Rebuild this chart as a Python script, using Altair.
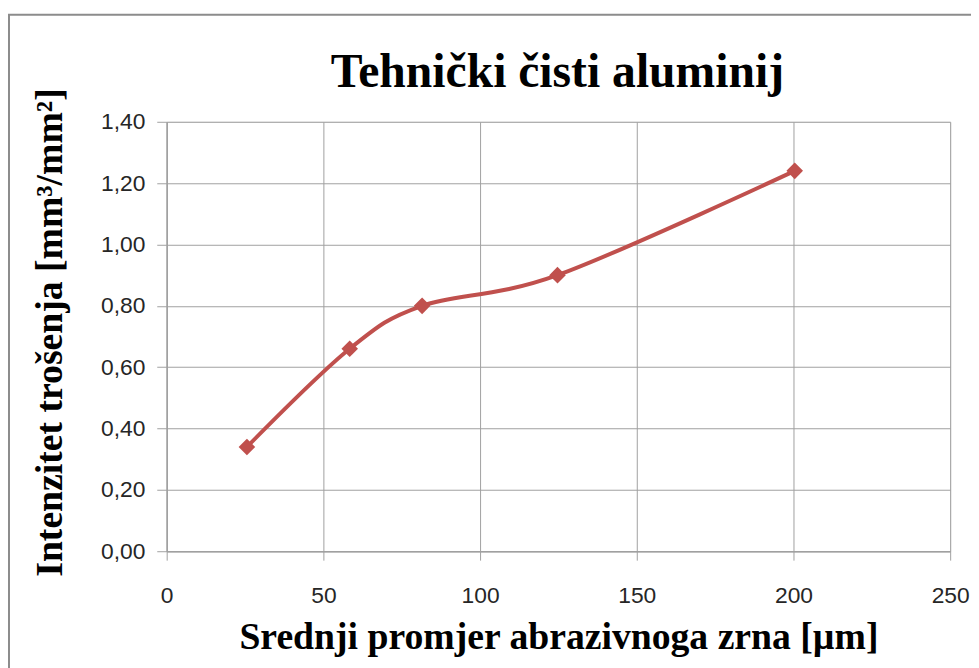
import altair as alt
import pandas as pd

# Data
grain_size = [25.6, 58.4, 81.5, 124.7, 200.4]
wear_rate = [0.34, 0.66, 0.80, 0.90, 1.24]
x_ticks = [0, 50, 100, 150, 200, 250]
y_ticks = [0.0, 0.2, 0.4, 0.6, 0.8, 1.0, 1.2, 1.4]
chart_title = "Tehnički čisti aluminij"

df = pd.DataFrame({"x": grain_size, "y": wear_rate})

GRID = "#a0a0a0"
RED = "#C0504D"

xs = alt.Scale(domain=[0, 250], nice=False, zero=False)
ys = alt.Scale(domain=[0, 1.4], nice=False, zero=False)

x_axis = alt.Axis(
    values=x_ticks, title="Srednji promjer abrazivnoga zrna [µm]",
    grid=True, gridColor=GRID, gridWidth=1, domainColor=GRID, domainWidth=1.5,
    tickColor=GRID, tickSize=9, labelFont="Liberation Sans", labelFontSize=23,
    labelColor="#262626", labelPadding=25, labelFlush=False,
    titleFont="Liberation Serif", titleFontSize=38, titleFontWeight="bold",
    titleColor="black", titleY=98, titleBaseline="alphabetic",
)
y_axis = alt.Axis(
    values=y_ticks, title="Intenzitet trošenja  [mm³/mm²]",
    labelExpr="replace(format(datum.value, '.2f'), '.', ',')",
    grid=True, gridColor=GRID, gridWidth=1, domainColor=GRID, domainWidth=1.5,
    tickColor=GRID, tickSize=10, labelFont="Liberation Sans", labelFontSize=23,
    labelColor="#262626", labelPadding=12, labelFlush=False,
    titleFont="Liberation Serif", titleFontSize=38, titleFontWeight="bold",
    titleColor="black", titleX=-106, titleY=212, titleBaseline="alphabetic", titleAngle=270,
)

base = alt.Chart(df)

line = base.mark_line(color=RED, strokeWidth=4, interpolate="cardinal").encode(
    x=alt.X("x:Q", scale=xs, axis=x_axis),
    y=alt.Y("y:Q", scale=ys, axis=y_axis),
)
points = base.mark_point(shape="diamond", filled=True, size=280, color=RED, opacity=1).encode(
    x=alt.X("x:Q", scale=xs),
    y=alt.Y("y:Q", scale=ys),
)

one = alt.Data(values=[{"a": 1}])

border = alt.Chart(one).mark_rect(
    fill="white", fillOpacity=0, stroke="#8c8c8c", strokeWidth=2
).encode(
    x=alt.value(-159), x2=alt.value(900), y=alt.value(-108), y2=alt.value(700)
)

title = alt.Chart(one).mark_text(
    font="Liberation Serif", fontSize=48, fontWeight="bold", color="black",
    align="center", baseline="alphabetic",
).encode(
    x=alt.value(394), y=alt.value(-35), text=alt.value(chart_title)
)

chart = alt.layer(border, line, points, title).properties(
    width=790, height=433,
    padding={"left": 160, "top": 112, "right": 21, "bottom": 115},
    autosize="none",
).configure_view(stroke=None).configure(background="white")

chart.save("out.html", embed_options={"renderer": "svg", "actions": False})
